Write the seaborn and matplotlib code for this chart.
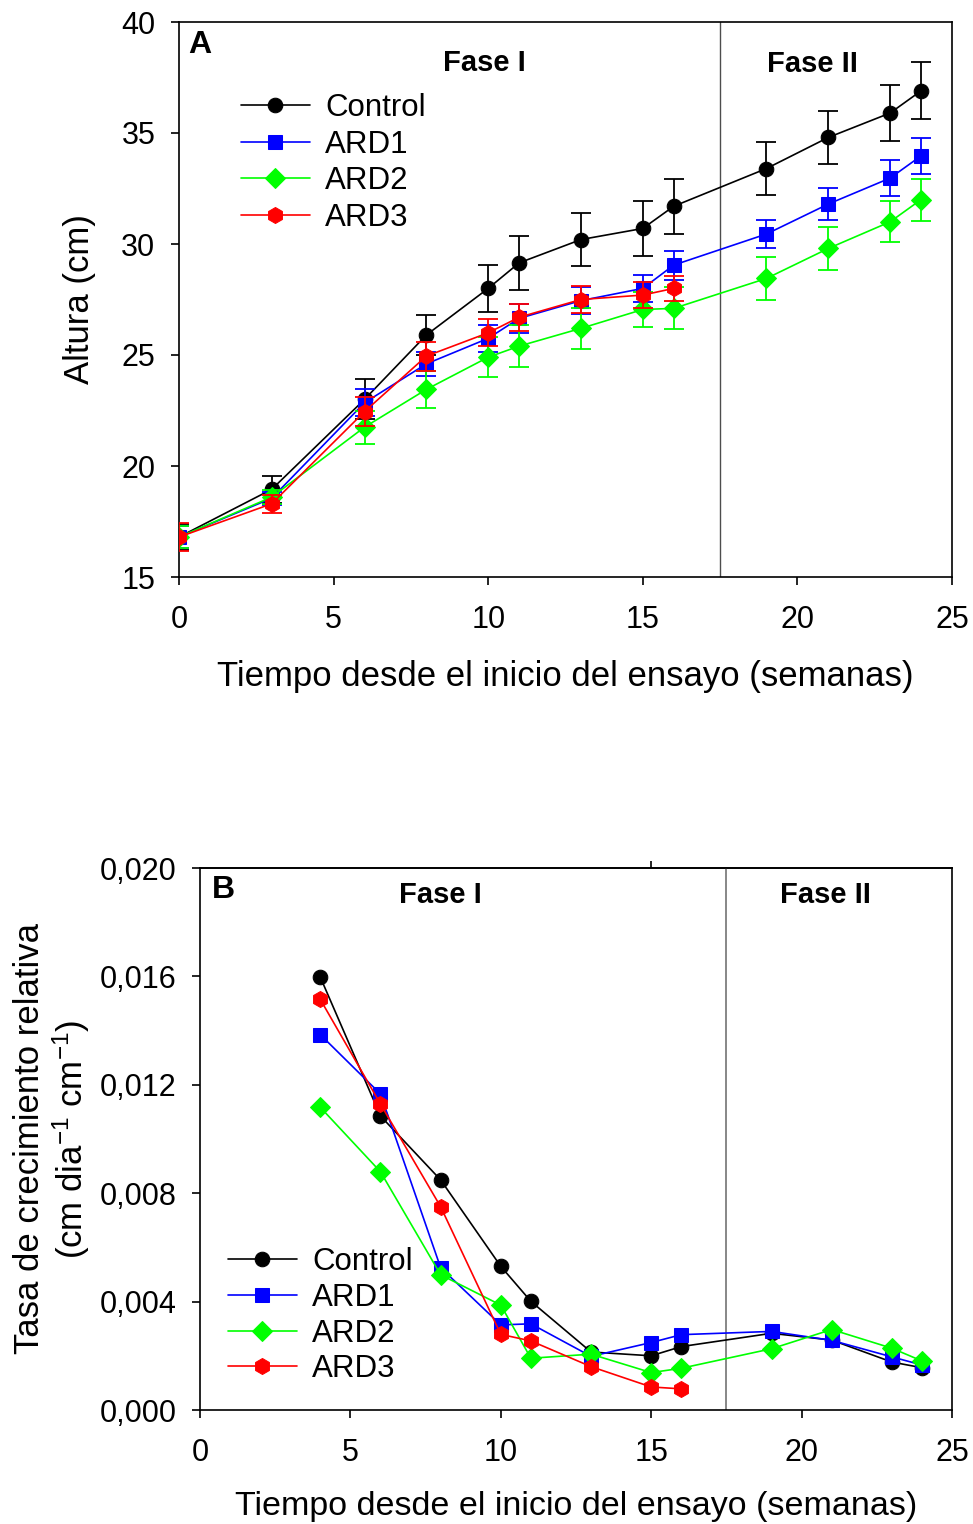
import numpy as np
import pandas as pd
import matplotlib
matplotlib.use("Agg")
import matplotlib.pyplot as plt
import seaborn as sns

# ---------------- data ----------------
series = ["Control", "ARD1", "ARD2", "ARD3"]
colors = ["#000000", "#0000FF", "#00FF00", "#FF0000"]
marker_list = ["o", "s", "D", "h"]

# Panel A: height (cm)
weeks_a = [0, 3, 6, 8, 10, 11, 13, 15, 16, 19, 21, 23, 24]
weeks_a3 = [0, 3, 6, 8, 10, 11, 13, 15, 16]
h_control = [16.8, 18.95, 23.0, 25.9, 28.0, 29.15, 30.2, 30.7, 31.7, 33.4, 34.8, 35.9, 36.9]
e_control = [0.6, 0.6, 0.9, 0.9, 1.05, 1.2, 1.2, 1.25, 1.25, 1.2, 1.2, 1.25, 1.28]
h_ard1 = [16.8, 18.55, 22.85, 24.6, 25.75, 26.65, 27.45, 28.0, 29.05, 30.45, 31.8, 32.97, 33.97]
e_ard1 = [0.5, 0.3, 0.6, 0.55, 0.6, 0.65, 0.6, 0.6, 0.65, 0.65, 0.72, 0.8, 0.8]
h_ard2 = [16.8, 18.6, 21.75, 23.45, 24.9, 25.4, 26.2, 27.05, 27.1, 28.45, 29.8, 31.0, 32.0]
e_ard2 = [0.5, 0.3, 0.75, 0.85, 0.9, 0.95, 0.93, 0.8, 0.95, 0.95, 0.95, 0.93, 0.95]
h_ard3 = [16.8, 18.3, 22.45, 24.95, 26.0, 26.7, 27.5, 27.7, 28.0]
e_ard3 = [0.65, 0.4, 0.65, 0.65, 0.6, 0.6, 0.6, 0.6, 0.58]

# Panel B: relative growth rate
weeks_b = [4, 6, 8, 10, 11, 13, 15, 16, 19, 21, 23, 24]
weeks_b3 = [4, 6, 8, 10, 11, 13, 15, 16]
r_control = [0.01597, 0.01085, 0.00849, 0.0053, 0.00401, 0.00214, 0.0020, 0.00234, 0.00283, 0.00258, 0.00177, 0.00156]
r_ard1 = [0.01385, 0.01166, 0.00525, 0.00314, 0.00318, 0.00198, 0.00249, 0.00278, 0.0029, 0.00257, 0.00196, 0.00166]
r_ard2 = [0.01117, 0.00879, 0.00499, 0.00387, 0.00191, 0.00206, 0.00138, 0.00154, 0.00226, 0.00297, 0.00228, 0.00181]
r_ard3 = [0.01515, 0.01129, 0.0075, 0.00279, 0.00255, 0.0016, 0.00085, 0.00078]

ticks_a_x = [0, 5, 10, 15, 20, 25]
ticks_a_y = [15, 20, 25, 30, 35, 40]
ticks_b_y = [0.0, 0.004, 0.008, 0.012, 0.016, 0.020]
ticklabels_b_y = ["0,000", "0,004", "0,008", "0,012", "0,016", "0,020"]
phase_split = 17.5

xlabel = "Tiempo desde el inicio del ensayo (semanas)"

# ---------------- style ----------------
sns.set_theme(style="ticks")
plt.rcParams["font.family"] = ["Liberation Sans", "DejaVu Sans"]
plt.rcParams["mathtext.fontset"] = "custom"
plt.rcParams["mathtext.rm"] = "Liberation Sans"
plt.rcParams["mathtext.it"] = "Liberation Sans:italic"
plt.rcParams["mathtext.bf"] = "Liberation Sans:bold"
plt.rcParams["text.color"] = "black"
plt.rcParams["axes.labelcolor"] = "black"
plt.rcParams["xtick.color"] = "black"
plt.rcParams["ytick.color"] = "black"
plt.rcParams["axes.edgecolor"] = "black"

TICK_FS = 22
LAB_FS = 25
LEG_FS = 22.5
TXT_FS = 21

fig = plt.figure(figsize=(9.73, 15.24), dpi=100)
axA = fig.add_axes([179 / 973, 1 - 577 / 1524, 773 / 973, 555 / 1524])
axB = fig.add_axes([200 / 973, 1 - 1410 / 1524, 752 / 973, 542 / 1524])

palette = dict(zip(series, colors))
markers = dict(zip(series, marker_list))
msizes = {"Control": 10.5, "ARD1": 10.5, "ARD2": 10.5, "ARD3": 11.5}

# long-form data
dfA = pd.concat([
    pd.DataFrame({"x": weeks_a, "y": h_control, "e": e_control, "g": "Control"}),
    pd.DataFrame({"x": weeks_a, "y": h_ard1, "e": e_ard1, "g": "ARD1"}),
    pd.DataFrame({"x": weeks_a, "y": h_ard2, "e": e_ard2, "g": "ARD2"}),
    pd.DataFrame({"x": weeks_a3, "y": h_ard3, "e": e_ard3, "g": "ARD3"}),
], ignore_index=True)
dfB = pd.concat([
    pd.DataFrame({"x": weeks_b, "y": r_control, "g": "Control"}),
    pd.DataFrame({"x": weeks_b, "y": r_ard1, "g": "ARD1"}),
    pd.DataFrame({"x": weeks_b, "y": r_ard2, "g": "ARD2"}),
    pd.DataFrame({"x": weeks_b3, "y": r_ard3, "g": "ARD3"}),
], ignore_index=True)

# ---------------- Panel A ----------------
for i, s in enumerate(series):
    sub = dfA[dfA.g == s]
    axA.errorbar(sub.x, sub.y, yerr=sub.e, fmt="none", ecolor=palette[s],
                 elinewidth=1.3, capsize=7, capthick=1.3, zorder=2 + i)
for i, s in enumerate(series):
    sub = dfA[dfA.g == s]
    sns.lineplot(data=sub, x="x", y="y", ax=axA, color=palette[s], marker=markers[s],
                 markersize=msizes[s], markeredgecolor=palette[s], linewidth=1.2,
                 label=s, zorder=2.5 + i, estimator=None, sort=False)

axA.axvline(phase_split, color="0.3", linewidth=1.0, zorder=1)
axA.set_xlim(0, 25)
axA.set_ylim(15, 40)
axA.set_xticks(ticks_a_x)
axA.set_yticks(ticks_a_y)
axA.set_xlabel(xlabel, fontsize=LAB_FS, labelpad=18)
axA.set_ylabel("Altura (cm)", fontsize=LAB_FS, labelpad=18)
axA.text(0.027, 0.958, "A", transform=axA.transAxes, fontsize=TXT_FS + 2,
         fontweight="bold", ha="center", va="center")
axA.text(0.395, 0.926, "Fase I", transform=axA.transAxes, fontsize=TXT_FS,
         fontweight="bold", ha="center", va="center")
axA.text(0.820, 0.924, "Fase II", transform=axA.transAxes, fontsize=TXT_FS,
         fontweight="bold", ha="center", va="center")
legA = axA.legend(loc="upper left", bbox_to_anchor=(0.08, 0.872), frameon=False,
                  fontsize=LEG_FS, handlelength=2.2, handletextpad=0.5,
                  labelspacing=0.21, borderpad=0, borderaxespad=0)

# ---------------- Panel B ----------------
for i, s in enumerate(series):
    sub = dfB[dfB.g == s]
    sns.lineplot(data=sub, x="x", y="y", ax=axB, color=palette[s], marker=markers[s],
                 markersize=msizes[s], markeredgecolor=palette[s], linewidth=1.2,
                 label=s, zorder=2.5 + i, estimator=None, sort=False)

axB.axvline(phase_split, color="0.45", linewidth=1.2, zorder=1)
axB.set_xlim(0, 25)
axB.set_ylim(0, 0.020)
axB.set_xticks(ticks_a_x)
axB.set_xticklabels([str(t) for t in ticks_a_x])
axB.set_yticks(ticks_b_y)
axB.set_yticklabels(ticklabels_b_y)
axB.set_xlabel(xlabel, fontsize=24.5, labelpad=17)
axB.set_ylabel("Tasa de crecimiento relativa\n(cm dia$^{-1}$ cm$^{-1}$)",
               fontsize=LAB_FS, labelpad=5, linespacing=1.15)
axB.text(0.031, 0.959, "B", transform=axB.transAxes, fontsize=TXT_FS + 2,
         fontweight="bold", ha="center", va="center")
axB.text(0.320, 0.950, "Fase I", transform=axB.transAxes, fontsize=TXT_FS,
         fontweight="bold", ha="center", va="center")
axB.text(0.832, 0.950, "Fase II", transform=axB.transAxes, fontsize=TXT_FS,
         fontweight="bold", ha="center", va="center")
legB = axB.legend(loc="upper left", bbox_to_anchor=(0.037, 0.300), frameon=False,
                  fontsize=LEG_FS, handlelength=2.2, handletextpad=0.5,
                  labelspacing=0.18, borderpad=0, borderaxespad=0)

# small tick on the top frame of panel B
topB = axB.secondary_xaxis("top")
topB.set_xticks([15])
topB.set_xticklabels([""])
topB.tick_params(direction="out", length=5, width=1.2, color="black")

for ax in (axA, axB):
    for sp in ax.spines.values():
        sp.set_visible(True)
        sp.set_color("black")
        sp.set_linewidth(1.2)
    ax.tick_params(axis="both", direction="out", length=6, width=1.2,
                   labelsize=TICK_FS, color="black", labelcolor="black")
    ax.tick_params(axis="x", pad=14)
    ax.tick_params(axis="y", pad=11)
    ax.grid(False)
    ax.set_facecolor("white")

fig.savefig("out.png", dpi=100, facecolor="white")
